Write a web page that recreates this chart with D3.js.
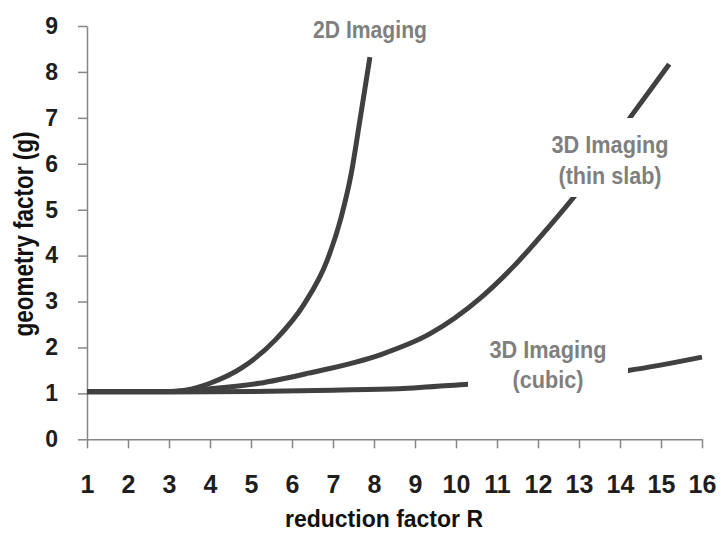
<!DOCTYPE html>
<html lang="en">
<head>
  <meta charset="UTF-8">
  <title>Geometry factor vs reduction factor</title>
  <script src="https://cdn.jsdelivr.net/npm/d3@7/dist/d3.min.js"></script>
  <style>
    body { margin: 0; background: #fff; }
    svg text { font-family: "Liberation Sans", Arial, sans-serif; font-weight: bold; }
    .axis path, .axis line { stroke: #868686; stroke-width: 1.5; }
    .axis text { fill: #1e1e1e; }
    .x-axis text { font-size: 25px; }
    .y-axis text { font-size: 23px; }
    .title { fill: #111; }
    .note { fill: #7f7f7f; font-size: 24px; }
  </style>
</head>
<body>
  <div id="chart"></div>
  <script>
    // Reduction factor R ticks and value range
    const xTicks = d3.range(1, 17);
    const yTicks = d3.range(0, 10);

    // 2D imaging curve
    const r2d = [1, 2, 3, 3.4, 4, 4.8, 5.6, 6.3, 6.85, 7.2, 7.45, 7.65, 7.9];
    const g2d = [1.04, 1.04, 1.04, 1.07, 1.22, 1.57, 2.17, 2.95, 3.88, 4.84, 5.81, 6.91, 8.32];

    // 3D imaging, thin slab
    const rSlab = [1, 2, 3, 3.4, 4, 5.2, 6.4, 8.15, 9.37, 10.6, 11.4, 12.2, 12.85, 14.25, 15.2];
    const gSlab = [1.04, 1.04, 1.04, 1.06, 1.1, 1.22, 1.44, 1.84, 2.3, 3.08, 3.76, 4.56, 5.25, 7.01, 8.17];

    // 3D imaging, cubic
    const rCubic = [1, 3, 5, 7, 8.6, 10.3, 12.3, 14.2, 16];
    const gCubic = [1.03, 1.03, 1.04, 1.07, 1.1, 1.2, 1.33, 1.5, 1.79];

    const labels2d = ['2D Imaging'];
    const labelsSlab = ['3D Imaging', '(thin slab)'];
    const labelsCubic = ['3D Imaging', '(cubic)'];

    const width = 724, height = 543;
    const margin = { top: 26, right: 22, bottom: 104, left: 87 };

    const svg = d3.select('#chart').append('svg')
      .attr('width', width)
      .attr('height', height);

    const x = d3.scaleLinear().domain([1, 16]).range([margin.left, width - margin.right]);
    const y = d3.scaleLinear().domain([0, 9]).range([height - margin.bottom + 0.3, margin.top]);

    // Axes
    svg.append('g')
      .attr('class', 'axis x-axis')
      .attr('transform', `translate(0,${y(0)})`)
      .call(d3.axisBottom(x).tickValues(xTicks).tickSize(9).tickPadding(27).tickSizeOuter(0).tickFormat(d3.format('d')));

    svg.append('g')
      .attr('class', 'axis y-axis')
      .attr('transform', `translate(${x(1)},0)`)
      .call(d3.axisLeft(y).tickValues(yTicks).tickSize(9).tickPadding(20).tickSizeOuter(0).tickFormat(d3.format('d')));

    // Axis titles
    svg.append('text')
      .attr('class', 'title')
      .attr('x', 384)
      .attr('y', 527)
      .attr('text-anchor', 'middle')
      .attr('font-size', 24)
      .attr('textLength', 198)
      .attr('lengthAdjust', 'spacingAndGlyphs')
      .text('reduction factor R');

    svg.append('text')
      .attr('class', 'title')
      .attr('transform', 'translate(33,234) rotate(-90)')
      .attr('text-anchor', 'middle')
      .attr('font-size', 28)
      .attr('textLength', 205)
      .attr('lengthAdjust', 'spacingAndGlyphs')
      .text('geometry factor (g)');

    // Curves
    const line = d3.line()
      .x(d => x(d[0]))
      .y(d => y(d[1]))
      .curve(d3.curveMonotoneX);

    const series = [
      d3.zip(r2d, g2d),
      d3.zip(rSlab, gSlab),
      d3.zip(rCubic, gCubic)
    ];

    svg.selectAll('.curve')
      .data(series)
      .join('path')
      .attr('class', 'curve')
      .attr('d', line)
      .attr('fill', 'none')
      .attr('stroke', '#404040')
      .attr('stroke-width', 5)
      .attr('stroke-linecap', 'butt');

    // Annotations, each on a white box that hides the curve behind it
    const notes = [
      { lines: labels2d, widths: [114], cx: 370, top: 0, boxW: 0, boxH: 0, first: 38, step: 0 },
      { lines: labelsSlab, widths: [117, 103], cx: 610, top: 118, boxW: 158, boxH: 79, first: 153, step: 30.5 },
      { lines: labelsCubic, widths: [117, 71], cx: 548, top: 330, boxW: 160, boxH: 68, first: 358, step: 29.5 }
    ];

    const noteG = svg.selectAll('.note-g')
      .data(notes)
      .join('g')
      .attr('class', 'note-g');

    noteG.filter(d => d.boxW > 0).append('rect')
      .attr('x', d => d.cx - d.boxW / 2)
      .attr('y', d => d.top)
      .attr('width', d => d.boxW)
      .attr('height', d => d.boxH)
      .attr('fill', '#fff');

    noteG.each(function(d) {
      d3.select(this).selectAll('text')
        .data(d.lines)
        .join('text')
        .attr('class', 'note')
        .attr('x', d.cx)
        .attr('y', (t, i) => d.first + i * d.step)
        .attr('text-anchor', 'middle')
        .attr('textLength', (t, i) => d.widths[i])
        .attr('lengthAdjust', 'spacingAndGlyphs')
        .text(t => t);
    });
  </script>
</body>
</html>
